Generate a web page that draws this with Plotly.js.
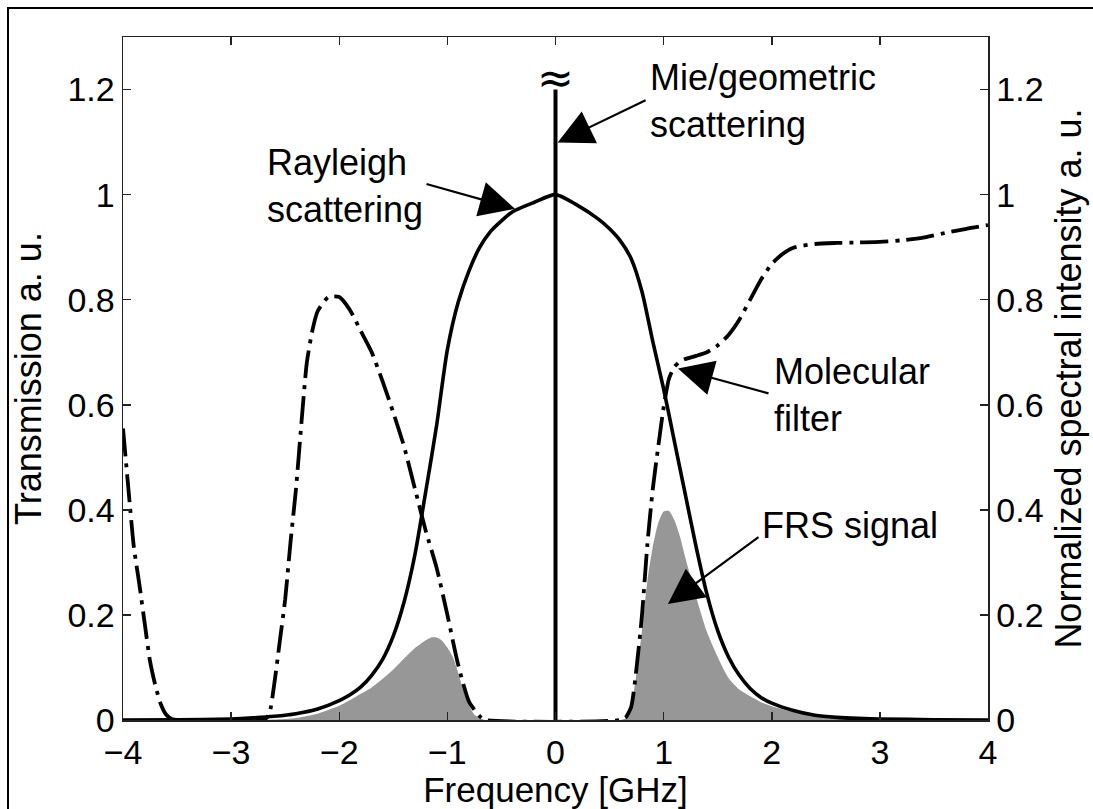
<!DOCTYPE html>
<html>
<head>
<meta charset="utf-8">
<script src="https://cdn.plot.ly/plotly-3.0.1.min.js"></script>
<style>
  html, body { margin: 0; padding: 0; background: #fff; }
  #frame { position: absolute; left: 7px; top: 7px; width: 1086px; height: 802px;
           border-left: 2px solid #000; border-top: 2px solid #000; box-sizing: border-box; }
  #chart { position: absolute; left: 0; top: 0; width: 1093px; height: 809px; }
</style>
</head>
<body>
<div id="chart"></div>
<div id="frame"></div>
<script>
// Frequency axis in GHz
const xTicks = [-4, -3, -2, -1, 0, 1, 2, 3, 4];
const yTicks = [0, 0.2, 0.4, 0.6, 0.8, 1, 1.2];

// Rayleigh-Brillouin scattering spectrum (normalized)
const rayleighX = [-4, -3.5, -3, -2.8, -2.6, -2.4, -2.2, -2.0, -1.9, -1.8, -1.7, -1.6, -1.5, -1.4, -1.3, -1.2, -1.1, -1.0, -0.9, -0.8, -0.7, -0.6, -0.5, -0.4, -0.2, 0, 0.2, 0.4, 0.5, 0.6, 0.7, 0.8, 0.9, 1.0, 1.1, 1.2, 1.3, 1.4, 1.5, 1.6, 1.7, 1.8, 1.9, 2.0, 2.2, 2.4, 2.6, 2.8, 3.0, 3.5, 4];
const rayleighY = [0, 0.0005, 0.002, 0.004, 0.007, 0.012, 0.021, 0.037, 0.048, 0.063, 0.085, 0.115, 0.16, 0.225, 0.315, 0.435, 0.56, 0.705, 0.795, 0.855, 0.9, 0.93, 0.95, 0.967, 0.985, 1.0, 0.98, 0.953, 0.935, 0.912, 0.878, 0.815, 0.72, 0.63, 0.53, 0.43, 0.33, 0.24, 0.17, 0.12, 0.085, 0.06, 0.043, 0.032, 0.018, 0.009, 0.005, 0.003, 0.002, 0.0005, 0];

// Molecular (iodine) filter transmission
const filterX = [-4, -3.95, -3.9, -3.85, -3.8, -3.75, -3.7, -3.65, -3.6, -3.55, -3.5, -2.7, -2.65, -2.6, -2.55, -2.5, -2.45, -2.4, -2.35, -2.3, -2.25, -2.2, -2.1, -2.0, -1.9, -1.8, -1.7, -1.6, -1.5, -1.4, -1.3, -1.2, -1.1, -1.0, -0.9, -0.8, -0.7, -0.65, 0.6, 0.65, 0.7, 0.75, 0.8, 0.85, 0.9, 0.95, 1.0, 1.05, 1.1, 1.15, 1.2, 1.3, 1.4, 1.5, 1.6, 1.7, 1.8, 1.9, 2.0, 2.1, 2.2, 2.4, 2.6, 2.8, 3.0, 3.2, 3.4, 3.6, 3.8, 4.0];
const filterY = [0.555, 0.44, 0.33, 0.26, 0.185, 0.112, 0.065, 0.03, 0.01, 0.002, 0, 0, 0.01, 0.07, 0.15, 0.23, 0.34, 0.44, 0.565, 0.68, 0.74, 0.778, 0.805, 0.805, 0.78, 0.74, 0.70, 0.645, 0.585, 0.52, 0.44, 0.36, 0.29, 0.2, 0.105, 0.035, 0.007, 0, 0, 0.005, 0.025, 0.1, 0.2, 0.335, 0.44, 0.52, 0.595, 0.65, 0.672, 0.682, 0.687, 0.693, 0.70, 0.713, 0.733, 0.762, 0.80, 0.838, 0.868, 0.887, 0.899, 0.906, 0.908, 0.909, 0.91, 0.913, 0.918, 0.927, 0.935, 0.942];

// Filtered Rayleigh scattering signal
const frsX = [-3.0, -2.6, -2.4, -2.2, -2.0, -1.9, -1.8, -1.7, -1.6, -1.5, -1.4, -1.3, -1.2, -1.15, -1.1, -1.05, -1.0, -0.95, -0.9, -0.85, -0.8, -0.75, -0.7, -0.65, 0.6, 0.65, 0.7, 0.75, 0.8, 0.85, 0.9, 0.95, 1.0, 1.05, 1.1, 1.15, 1.2, 1.3, 1.4, 1.5, 1.6, 1.7, 1.8, 1.9, 2.0, 2.2, 2.4, 2.6, 2.8, 3.0];
const frsY = [0, 0.001, 0.004, 0.012, 0.027, 0.038, 0.05, 0.062, 0.078, 0.096, 0.117, 0.137, 0.152, 0.157, 0.157, 0.151, 0.138, 0.12, 0.09, 0.055, 0.028, 0.01, 0.004, 0, 0, 0.004, 0.025, 0.09, 0.17, 0.265, 0.33, 0.375, 0.397, 0.398, 0.38, 0.35, 0.31, 0.235, 0.168, 0.12, 0.08, 0.058, 0.045, 0.034, 0.026, 0.015, 0.008, 0.004, 0.002, 0.001];

// Mie / geometric scattering: narrow line at zero shift
const mieX = [0, 0];
const mieY = [0, 1.2];

const FONT = 'Liberation Sans, Arial, Helvetica, sans-serif';

const traces = [
  { x: frsX, y: frsY, yaxis: 'y', mode: 'lines', fill: 'tozeroy',
    fillcolor: '#979797', line: { width: 0, color: '#979797', shape: 'spline', smoothing: 0.6 },
    name: 'FRS signal', hoverinfo: 'skip' },
  { x: filterX, y: filterY, yaxis: 'y', mode: 'lines',
    line: { color: '#000', width: 3.8, dash: '28px,7px,4px,7px', shape: 'spline', smoothing: 0.6 },
    name: 'Molecular filter' },
  { x: rayleighX, y: rayleighY, yaxis: 'y2', mode: 'lines',
    line: { color: '#000', width: 3.6, shape: 'spline', smoothing: 0.7 },
    name: 'Rayleigh scattering' },
  { x: mieX, y: mieY, yaxis: 'y2', mode: 'lines',
    line: { color: '#000', width: 4 }, name: 'Mie/geometric scattering' }
];

const axisCommon = {
  showgrid: false, zeroline: false, showline: true, linecolor: '#222', linewidth: 1.5,
  ticks: 'inside', ticklen: 8, tickwidth: 1.5, tickcolor: '#222',
  tickfont: { family: FONT, size: 34, color: '#000' }
};

function label(text, x, y) {
  return { text: text, x: x, y: y, xref: 'x', yref: 'y', xanchor: 'left', yanchor: 'middle',
           align: 'left', showarrow: false, font: { family: FONT, size: 36, color: '#000' } };
}
function arrow(hx, hy, tx, ty) {
  return { text: '', x: hx, y: hy, ax: tx, ay: ty, xref: 'x', yref: 'y', axref: 'x', ayref: 'y',
           showarrow: true, arrowhead: 2, arrowsize: 3.2, arrowwidth: 2.2, arrowcolor: '#000', standoff: 0 };
}

const layout = {
  width: 1093, height: 809,
  margin: { l: 123, r: 105, t: 37, b: 89 },
  paper_bgcolor: '#fff', plot_bgcolor: '#fff',
  showlegend: false,
  font: { family: FONT, color: '#000' },
  xaxis: Object.assign({}, axisCommon, {
    range: [-4, 4], tickvals: xTicks, mirror: 'ticks', ticklabelstandoff: 2,
    title: { text: 'Frequency [GHz]', font: { family: FONT, size: 35, color: '#000' }, standoff: 4 }
  }),
  yaxis: Object.assign({}, axisCommon, {
    range: [0, 1.3], tickvals: yTicks,
    title: { text: 'Transmission a. u.', font: { family: FONT, size: 36, color: '#000' }, standoff: 15 }
  }),
  yaxis2: Object.assign({}, axisCommon, {
    range: [0, 1.3], tickvals: yTicks, overlaying: 'y', side: 'right',
    title: { text: 'Normalized spectral intensity a. u.', font: { family: FONT, size: 36, color: '#000' }, standoff: 13 }
  }),
  annotations: [
    label('Rayleigh<br>scattering', -2.69, 1.017),
    label('Mie/geometric<br>scattering', 0.856, 1.179),
    label('Molecular<br>filter', 2.0, 0.619),
    label('FRS signal', 1.89, 0.371),
    { text: '≈', x: 0, y: 1.222, xref: 'x', yref: 'y', showarrow: false,
      xanchor: 'center', yanchor: 'middle', font: { family: 'DejaVu Sans, ' + FONT, size: 44, color: '#000' } },
    arrow(-0.375, 0.973, -1.207, 1.021),
    arrow(0.02, 1.099, 0.847, 1.181),
    arrow(1.133, 0.669, 1.984, 0.621),
    arrow(1.04, 0.221, 1.891, 0.35)
  ]
};

Plotly.newPlot('chart', traces, layout, { displayModeBar: false, staticPlot: true });
</script>
</body>
</html>
